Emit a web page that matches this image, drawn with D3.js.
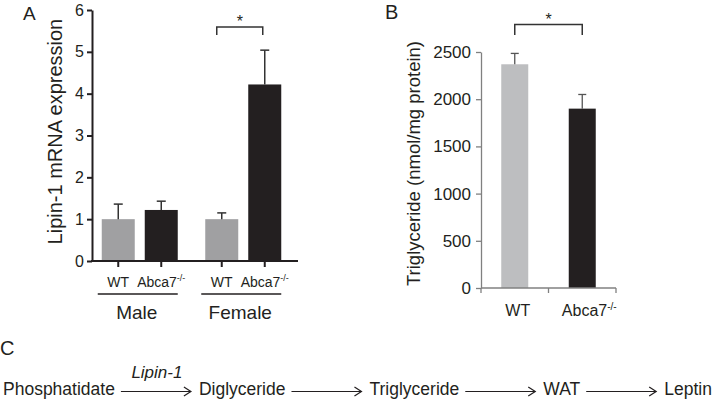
<!DOCTYPE html>
<html><head><meta charset="utf-8">
<script src="https://cdn.jsdelivr.net/npm/d3@7"></script>
<style>
body{margin:0;background:#fff}
svg{display:block;font-family:"Liberation Sans",Arial,Helvetica,sans-serif}
</style>
</head><body>
<svg id="c" width="721" height="401"></svg>
<script>
// ---------- data ----------
const sexes = ["Male", "Female"];
const genotypes = ["WT", "Abca7"];
const lipinMale = [1.00, 1.22];
const lipinMaleErr = [0.36, 0.21];
const lipinFemale = [1.00, 4.22];
const lipinFemaleErr = [0.15, 0.82];
const lipinTicks = [0, 1, 2, 3, 4, 5, 6];

const tgMean = [2370, 1900];
const tgErr = [115, 150];
const tgTicks = [0, 500, 1000, 1500, 2000, 2500];

const pathwaySteps = ["Phosphatidate", "Diglyceride", "Triglyceride", "WAT", "Leptin"];
const pathwayEnzymes = ["Lipin-1", "", "", ""];

// ---------- setup ----------
const ink = "#231f20";
const svg = d3.select("#c");

function koLabel(sel, size, supSize, dy) {
  sel.append("tspan").text("Abca7");
  sel.append("tspan").attr("font-size", supSize).attr("dy", dy).text("-/-");
}

// ---------- Panel A ----------
const A = svg.append("g");
const yA = d3.scaleLinear().domain([0, 6]).range([261, 10]);
const xOuter = d3.scaleBand().domain(sexes).range([88, 295]);
const xInner = d3.scaleBand().domain(genotypes).range([13.75, 89.75]).paddingInner(10 / 43);
const bwA = xInner.bandwidth();
const rowsA = [];
sexes.forEach((s, i) => genotypes.forEach((g, j) => {
  rowsA.push({ s, g, j,
    mean: (i ? lipinFemale : lipinMale)[j],
    err: (i ? lipinFemaleErr : lipinMaleErr)[j] });
}));
const cxA = d => xOuter(d.s) + xInner(d.g) + bwA / 2;

A.selectAll("rect.bar").data(rowsA).join("rect")
  .attr("x", d => xOuter(d.s) + xInner(d.g))
  .attr("y", d => yA(d.mean))
  .attr("width", bwA)
  .attr("height", d => yA(0) - yA(d.mean))
  .attr("fill", d => d.j ? ink : "#a0a0a2");

A.selectAll("line.err").data(rowsA).join("line")
  .attr("x1", cxA).attr("x2", cxA)
  .attr("y1", d => yA(d.mean)).attr("y2", d => yA(d.mean + d.err))
  .attr("stroke", "#333").attr("stroke-width", 1.5);
A.selectAll("line.cap").data(rowsA).join("line")
  .attr("x1", d => cxA(d) - 4.5).attr("x2", d => cxA(d) + 4.5)
  .attr("y1", d => yA(d.mean + d.err)).attr("y2", d => yA(d.mean + d.err))
  .attr("stroke", "#333").attr("stroke-width", 1.5);

const axA = A.append("g").attr("transform", "translate(92,0)")
  .call(d3.axisLeft(yA).tickValues(lipinTicks).tickSize(5).tickSizeOuter(0).tickPadding(3).tickFormat(d3.format("d")));
axA.select(".domain").attr("stroke", ink).attr("stroke-width", 2);
axA.selectAll(".tick line").attr("stroke", ink).attr("stroke-width", 2);
axA.selectAll(".tick text").attr("fill", ink).attr("font-size", 16).attr("font-family", null);

A.append("line").attr("x1", 91).attr("x2", 298).attr("y1", yA(0)).attr("y2", yA(0))
  .attr("stroke", ink).attr("stroke-width", 2);
A.selectAll("line.xt").data(rowsA).join("line")
  .attr("x1", cxA).attr("x2", cxA).attr("y1", yA(0)).attr("y2", yA(0) + 6)
  .attr("stroke", ink).attr("stroke-width", 2);

A.selectAll("text.gl").data(rowsA).join("text")
  .attr("x", cxA).attr("y", 286.7).attr("text-anchor", "middle")
  .attr("font-size", 14).attr("fill", ink)
  .each(function (d) {
    const t = d3.select(this);
    if (d.j) koLabel(t, 14, 9, -6); else t.text("WT");
  });

sexes.forEach(s => {
  const x1 = xOuter(s) + xInner("WT") - 4;
  const x2 = xOuter(s) + xInner("Abca7") + bwA;
  A.append("line").attr("x1", x1).attr("x2", x2).attr("y1", 294).attr("y2", 294)
    .attr("stroke", ink).attr("stroke-width", 1.5);
  A.append("text").attr("x", (x1 + x2) / 2 - 1).attr("y", 319.3).attr("text-anchor", "middle")
    .attr("font-size", 19).attr("fill", ink).text(s);
});

A.append("text").attr("transform", "translate(62,131.6) rotate(-90)")
  .attr("text-anchor", "middle").attr("font-size", 20).attr("fill", ink)
  .text("Lipin-1 mRNA expression");

{
  const f = rowsA.filter(d => d.s === "Female");
  const l = cxA(f[0]) - 5, r = cxA(f[1]) - 2;
  A.append("path").attr("d", `M${l},35V27H${r}V35`).attr("fill", "none")
    .attr("stroke", "#333").attr("stroke-width", 1.5);
  A.append("text").attr("x", (l + r) / 2).attr("y", 26.5).attr("text-anchor", "middle")
    .attr("font-size", 16).attr("fill", ink).text("*");
}
A.append("text").attr("x", 23).attr("y", 20).attr("font-size", 19).attr("fill", ink).text("A");

// ---------- Panel B ----------
const B = svg.append("g");
const yB = d3.scaleLinear().domain([0, 2500]).range([288, 52]);
const xB = d3.scaleBand().domain(genotypes).range([481, 616]).paddingInner(0.6).paddingOuter(0.3);
const bwB = xB.bandwidth();
const rowsB = genotypes.map((g, j) => ({ g, j, mean: tgMean[j], err: tgErr[j] }));
const cxB = d => xB(d.g) + bwB / 2;

B.selectAll("rect").data(rowsB).join("rect")
  .attr("x", d => xB(d.g)).attr("y", d => yB(d.mean))
  .attr("width", bwB).attr("height", d => yB(0) - yB(d.mean))
  .attr("fill", d => d.j ? ink : "#bdbec0");
B.selectAll("line.err").data(rowsB).join("line")
  .attr("x1", cxB).attr("x2", cxB)
  .attr("y1", d => yB(d.mean)).attr("y2", d => yB(d.mean + d.err))
  .attr("stroke", "#555").attr("stroke-width", 1.3);
B.selectAll("line.cap").data(rowsB).join("line")
  .attr("x1", d => cxB(d) - 4).attr("x2", d => cxB(d) + 4)
  .attr("y1", d => yB(d.mean + d.err)).attr("y2", d => yB(d.mean + d.err))
  .attr("stroke", "#555").attr("stroke-width", 1.3);

const axB = B.append("g").attr("transform", "translate(481,0)")
  .call(d3.axisLeft(yB).tickValues(tgTicks).tickSize(5).tickSizeOuter(0).tickPadding(5).tickFormat(d3.format("d")));
axB.select(".domain").attr("stroke", "#808080").attr("stroke-width", 1.3);
axB.selectAll(".tick line").attr("stroke", "#808080").attr("stroke-width", 1.3);
axB.selectAll(".tick text").attr("fill", ink).attr("font-size", 17).attr("font-family", null);

B.append("line").attr("x1", 481).attr("x2", 616).attr("y1", yB(0)).attr("y2", yB(0))
  .attr("stroke", "#808080").attr("stroke-width", 1.3);
const bounds = [xB.range()[0]].concat(rowsB.map(d => cxB(d) + xB.step() / 2));
B.selectAll("line.xt").data(bounds).join("line")
  .attr("x1", d => d).attr("x2", d => d).attr("y1", yB(0)).attr("y2", yB(0) + 5)
  .attr("stroke", "#808080").attr("stroke-width", 1.3);

B.selectAll("text.xl").data(rowsB).join("text")
  .attr("x", d => cxB(d) + (d.j ? 7 : 3)).attr("y", 316).attr("text-anchor", "middle")
  .attr("font-size", 16).attr("fill", ink)
  .each(function (d) {
    const t = d3.select(this);
    if (d.j) koLabel(t, 16, 10, -6); else t.text("WT");
  });

B.append("text").attr("transform", "translate(419.5,163.5) rotate(-90)")
  .attr("text-anchor", "middle").attr("font-size", 18.5).attr("fill", ink)
  .text("Triglyceride (nmol/mg protein)");

{
  const l = cxB(rowsB[0]), r = cxB(rowsB[1]);
  B.append("path").attr("d", `M${l},35V24.5H${r}V35`).attr("fill", "none")
    .attr("stroke", "#333").attr("stroke-width", 1.5);
  B.append("text").attr("x", (l + r) / 2).attr("y", 25).attr("text-anchor", "middle")
    .attr("font-size", 16).attr("fill", ink).text("*");
}
B.append("text").attr("x", 385).attr("y", 18.5).attr("font-size", 20).attr("fill", ink).text("B");

// ---------- Panel C ----------
const C = svg.append("g");
C.append("text").attr("x", 0).attr("y", 355).attr("font-size", 20).attr("fill", ink).text("C");
let cx = 3;
const baseY = 395, arrowY = 391.5, arrowLen = 70;
pathwaySteps.forEach((s, i) => {
  const t = C.append("text").attr("x", cx).attr("y", baseY).attr("font-size", 17.5).attr("fill", ink).text(s);
  cx += t.node().getComputedTextLength();
  if (i < pathwaySteps.length - 1) {
    const a0 = cx + 6, a1 = a0 + arrowLen;
    C.append("line").attr("x1", a0).attr("x2", a1).attr("y1", arrowY).attr("y2", arrowY)
      .attr("stroke", ink).attr("stroke-width", 1.2);
    C.append("path").attr("d", `M${a1 - 7},${arrowY - 4.5}L${a1},${arrowY}L${a1 - 7},${arrowY + 4.5}`)
      .attr("fill", "none").attr("stroke", ink).attr("stroke-width", 1.2);
    if (pathwayEnzymes[i]) {
      C.append("text").attr("x", (a0 + a1) / 2 + 1).attr("y", 378.3).attr("text-anchor", "middle")
        .attr("font-size", 17).attr("font-style", "italic").attr("fill", ink).text(pathwayEnzymes[i]);
    }
    cx = a1 + 8;
  }
});
</script>
</body></html>
